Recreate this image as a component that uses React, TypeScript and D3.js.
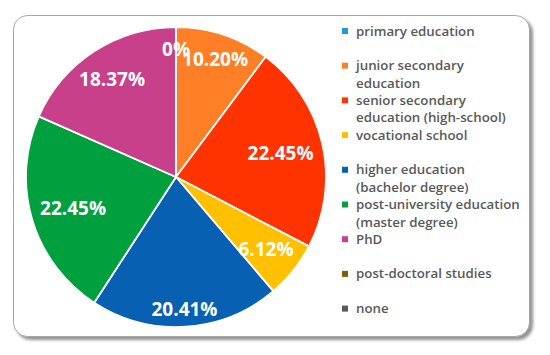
import React, { useEffect, useRef } from 'react';
import * as d3 from 'd3';

const categories = [
  'primary education',
  'junior secondary education',
  'senior secondary education (high-school)',
  'vocational school',
  'higher education (bachelor degree)',
  'post-university education (master degree)',
  'PhD',
  'post-doctoral studies',
  'none',
];
const shares = [0, 10.2, 22.45, 6.12, 20.41, 22.45, 18.37, 0, 0];
const labels = ['0%', '10.20%', '22.45%', '6.12%', '20.41%', '22.45%', '18.37%', '0%', '0%'];
const colors = ['#1F9BDB', '#FF7F27', '#FF3300', '#FFC000', '#0860B2', '#00A03E', '#C8408A', '#7F6000', '#595959'];

const W = 550;
const H = 355;

export default function App() {
  const ref = useRef<SVGSVGElement>(null);

  useEffect(() => {
    const svg = d3.select(ref.current);
    svg.selectAll('*').remove();

    // frame with soft shadow
    const defs = svg.append('defs');
    const f = defs.append('filter').attr('id', 'shadow').attr('x', '-5%').attr('y', '-5%').attr('width', '115%').attr('height', '115%');
    f.append('feDropShadow').attr('dx', 3).attr('dy', 3).attr('stdDeviation', 1.8).attr('flood-color', '#6e6e6e').attr('flood-opacity', 0.75);

    svg.append('rect')
      .attr('x', 13.5).attr('y', 15.5).attr('width', 516).attr('height', 321).attr('rx', 14)
      .attr('fill', '#fff').attr('stroke', '#a6a6a6').attr('stroke-width', 1)
      .attr('filter', 'url(#shadow)');

    // --- pie ---
    const cx = 176, cy = 177, R = 150;
    const pie = d3.pie<number>().sort(null).value(d => d);
    const arcs = pie(shares);
    const arc = d3.arc<d3.PieArcDatum<number>>().innerRadius(0).outerRadius(R);

    const g = svg.append('g').attr('transform', `translate(${cx},${cy})`);
    g.selectAll('path')
      .data(arcs)
      .join('path')
      .attr('d', arc)
      .attr('fill', (d, i) => colors[i])
      .attr('stroke', '#fff')
      .attr('stroke-width', 1.8)
      .attr('stroke-linejoin', 'round');

    // labels: pushed to the inside edge; repeated zero labels at the same spot are dropped
    const rIn = 141;
    const zeroSpots: { x: number; y: number }[] = [];
    arcs.forEach((d, i) => {
      const t = g.append('text')
        .text(labels[i])
        .attr('font-family', '"Open Sans", sans-serif')
        .attr('font-weight', 700)
        .attr('font-size', 19)
        .attr('fill', '#fff')
        .attr('text-anchor', 'middle');
      const w = (t.node() as SVGTextElement).getComputedTextLength();
      const h = 14;
      const a = (d.startAngle + d.endAngle) / 2;
      const s = Math.sin(a), c = -Math.cos(a);
      let dist = rIn - (Math.abs(s) * w / 2 + Math.abs(c) * h / 2);
      if (d.value === 0) dist -= 6; // zero-width slices sit a bit lower
      const x = s * dist, y = c * dist;
      if (d.value === 0) {
        if (zeroSpots.some(p => Math.abs(p.x - x) < 10 && Math.abs(p.y - y) < 10)) { t.remove(); return; }
        zeroSpots.push({ x, y });
      }
      t.attr('x', x).attr('y', y + h / 2);
    });

    // --- legend ---
    const lx = 342, ly = 31, step = 34.7, lineH = 17.5, maxW = 168;
    categories.forEach((name, i) => {
      const y = ly + i * step;
      svg.append('rect')
        .attr('x', lx).attr('y', y - 3).attr('width', 6).attr('height', 6)
        .attr('fill', colors[i]);
      const t = svg.append('text')
        .attr('x', lx + 14)
        .attr('y', y + 4.5)
        .attr('font-family', '"Open Sans", sans-serif')
        .attr('font-weight', 600)
        .attr('font-size', 13.3)
        .attr('fill', '#595959');
      // simple word wrap
      const words = name.split(' ');
      let line: string[] = [];
      let span = t.append('tspan').attr('x', lx + 14).attr('dy', 0);
      words.forEach(word => {
        line.push(word);
        span.text(line.join(' '));
        if ((span.node() as SVGTSpanElement).getComputedTextLength() > maxW && line.length > 1) {
          line.pop();
          span.text(line.join(' '));
          line = [word];
          span = t.append('tspan').attr('x', lx + 14).attr('dy', lineH).text(word);
        }
      });
    });
  }, []);

  return (
    <svg
      ref={ref}
      width={W}
      height={H}
      style={{ position: 'absolute', left: 0, top: 0, background: '#fff' }}
    />
  );
}
